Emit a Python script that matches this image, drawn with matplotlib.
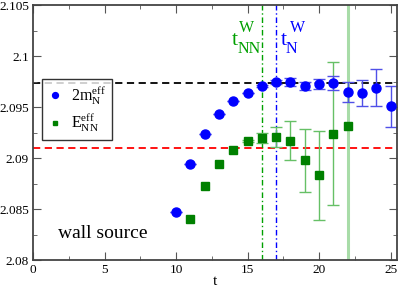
import matplotlib
matplotlib.use("Agg")
import matplotlib.pyplot as plt
import numpy as np

plt.rcParams['font.family'] = ['Liberation Serif', 'DejaVu Serif']
plt.rcParams['mathtext.default'] = 'regular'

# 2 m_N^eff (blue circles)
t_N = [10, 11, 12, 13, 14, 15, 16, 17, 18, 19, 20, 21, 22, 23, 24, 25]
m_N = [2.0847, 2.0894, 2.0924, 2.0943, 2.0956, 2.0964, 2.0971, 2.0975, 2.0975,
       2.0971, 2.0973, 2.0974, 2.0965, 2.0964, 2.0969, 2.0951]
m_N_err = [0.0, 0.0, 0.0, 0.0, 0.0, 0.0, 0.0001, 0.0002, 0.0004,
           0.0004, 0.0005, 0.0007, 0.00095, 0.00125, 0.0018, 0.002]

# E_NN^eff (green squares)
t_NN = [11, 12, 13, 14, 15, 16, 17, 18, 19, 20, 21, 22]
E_NN = [2.0840, 2.0873, 2.0894, 2.0908, 2.0917, 2.0920, 2.0921, 2.0917,
        2.0898, 2.0883, 2.0924, 2.0932]
E_NN_err = [0.0, 0.0, 0.0, 0.0, 0.0001, 0.0005, 0.001, 0.0019,
            0.0031, 0.0044, 0.007, 0.03]

fit_N = 2.09737
fit_NN = 2.0910
tN_W = 17
tNN_W = 16

fig = plt.figure(figsize=(3.99, 2.87), dpi=100)
ax = fig.add_axes([0.0827, 0.094, 0.9123, 0.8875])

ax.axhline(fit_N, color='black', ls=(0, (4, 2.5)), lw=1.3, zorder=1)
ax.axhline(fit_NN, color='#ff0000', ls=(0, (4, 2.5)), lw=1.3, zorder=1)
ax.axvline(tNN_W, color='#00a000', ls=(0, (4, 2, 1, 2)), lw=1.0, zorder=1)
ax.axvline(tN_W, color='#0000ff', ls=(0, (4, 2, 1, 2)), lw=1.0, zorder=1)

# error bars
for t, y, e in zip(t_NN, E_NN, E_NN_err):
    if e <= 0:
        continue
    big = e > 0.02
    ax.errorbar([t], [y], yerr=[e], fmt='none',
                ecolor='#a8dca8' if big else '#66c066',
                elinewidth=2.2 if big else 1.0,
                capsize=0 if big else 4, capthick=1.0, zorder=2)
ax.errorbar(t_N, m_N, yerr=m_N_err, fmt='none', ecolor='#5050e8',
            elinewidth=1.0, capsize=4, capthick=1.0, zorder=2)

ax.plot(t_N, m_N, 'o', color='#0000ff', ms=6.5, zorder=3,
        label=r'2m$_{N}^{eff}$')
ax.plot(t_NN, E_NN, 's', color='#008000', ms=5.5, zorder=3,
        label=r'E$_{NN}^{eff}$')

ax.set_xlim(0, 25.45)
ax.set_ylim(2.08, 2.105)
ax.set_xticks([0, 5, 10, 15, 20, 25])
ax.set_xticks(np.arange(0, 25.5, 2.5), minor=True)
ax.set_yticks([2.08, 2.085, 2.09, 2.095, 2.1, 2.105])
ax.set_yticklabels(['2.08', '2.085', '2.09', '2.095', '2.1', '2.105'])
ax.set_yticks(np.arange(2.08, 2.1051, 0.0025), minor=True)
ax.tick_params(which='both', direction='in', top=True, right=True,
               labelsize=9.5, color='#555555')
ax.tick_params(which='major', length=6, pad=3)
ax.tick_params(which='minor', length=3)
for s in ax.spines.values():
    s.set_linewidth(1.3)
    s.set_color('#444444')
ax.set_xlabel('t', fontsize=11, labelpad=-1)

leg = ax.legend(loc='upper left', bbox_to_anchor=(0.024, 0.711), fontsize=11.5,
                frameon=True, fancybox=False, edgecolor='black',
                borderpad=0.35, handletextpad=0.5, handlelength=1.0,
                labelspacing=0.35, borderaxespad=0, markerscale=0.65)
leg.get_frame().set_linewidth(1.0)
leg.set_zorder(5)

# t^W labels, composed from pieces
ax.text(13.87, 2.1011, 't', color='#00a000', fontsize=16, va='baseline')
ax.text(14.27, 2.10028, 'NN', color='#00a000', fontsize=11.5, va='baseline')
ax.text(14.41, 2.10237, 'W', color='#00a000', fontsize=11.5, va='baseline')
ax.text(17.30, 2.1011, 't', color='#0000ff', fontsize=16, va='baseline')
ax.text(17.68, 2.10028, 'N', color='#0000ff', fontsize=11.5, va='baseline')
ax.text(17.95, 2.10237, 'W', color='#0000ff', fontsize=11.5, va='baseline')

ax.text(1.75, 2.08219, 'wall source', fontsize=14, ha='left', va='baseline')

fig.savefig('out.png', dpi=100)
